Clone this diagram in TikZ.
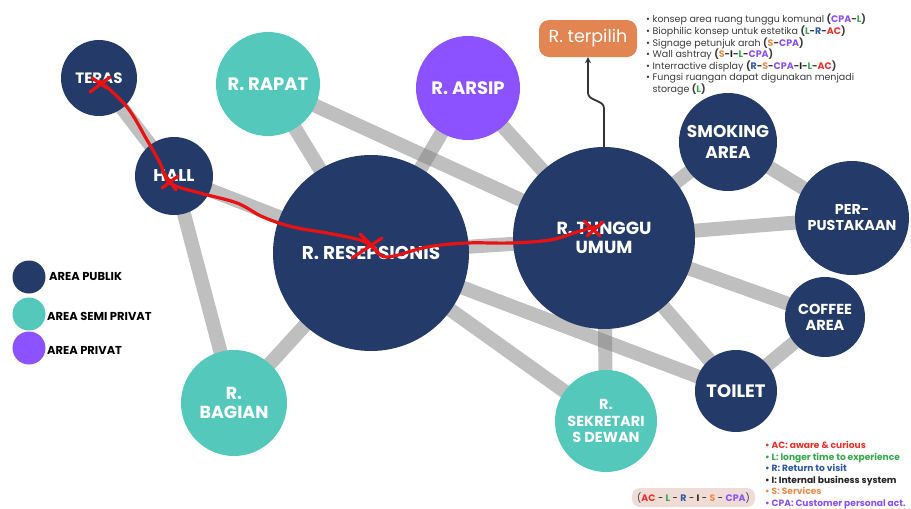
\documentclass[tikz,border=0pt]{standalone}
\usepackage{fontspec}
\setmainfont{Poppins}
\usetikzlibrary{backgrounds,arrows.meta}
\definecolor{navy}{HTML}{243A68}
\definecolor{teal}{HTML}{54C8BA}
\definecolor{purp}{HTML}{8C52FF}
\definecolor{orng}{HTML}{E38552}
\definecolor{cAC}{HTML}{E8302A}
\definecolor{cL}{HTML}{35A84A}
\definecolor{cR}{HTML}{2C57A6}
\definecolor{cI}{HTML}{222222}
\definecolor{cS}{HTML}{F08A4B}
\definecolor{cCPA}{HTML}{8A4FFF}
\definecolor{txt}{HTML}{3A3A3A}
\definecolor{pill}{HTML}{F0DCD6}
\definecolor{redpen}{HTML}{E81212}
\tikzset{
  room/.style={circle,inner sep=0pt,text=white,align=center,font=\bfseries\fontsize{18}{20}\selectfont},
  pub/.style={room,fill=navy},
  semi/.style={room,fill=teal},
  priv/.style={room,fill=purp},
  link/.style={draw=black!50,opacity=0.5,line width=14pt},
  legdot/.style={circle,inner sep=0pt,minimum size=33pt},
  legtxt/.style={anchor=west,inner sep=0pt,font=\bfseries\fontsize{11.5}{12}\selectfont},
  pen/.style={draw=redpen,line width=3.2pt,line cap=round,line join=round},
}
\newcommand{\cc}[2]{\textcolor{#1}{#2}}
\begin{document}
\begin{tikzpicture}[x=1pt,y=-1pt]
\useasboundingbox (0,0) rectangle (911,509);
% rooms
\node[pub,minimum size=76pt,font=\bfseries\fontsize{15}{17}\selectfont] (teras) at (99,78) {TERAS};
\node[pub,minimum size=78pt,font=\bfseries\fontsize{17}{19}\selectfont] (hall) at (174,176) {HALL};
\node[semi,minimum size=104pt] (rapat) at (268,84) {R. RAPAT};
\node[priv,minimum size=104pt] (arsip) at (468,88) {R. ARSIP};
\node[pub,minimum size=196pt,font=\bfseries\fontsize{18.5}{20}\selectfont] (resep) at (371,253) {R. RESEPSIONIS};
\node[pub,minimum size=182pt,font=\bfseries\fontsize{17.5}{19}\selectfont] (tunggu) at (604,238) {R. TUNGGU\\UMUM};
\node[pub,minimum size=98pt,font=\bfseries\fontsize{17}{21}\selectfont] (smoking) at (728,142) {SMOKING\\AREA};
\node[pub,minimum size=114pt,font=\bfseries\fontsize{14.3}{16}\selectfont] (perpus) at (852,218) {PER-\\PUSTAKAAN};
\node[pub,minimum size=80pt,font=\bfseries\fontsize{14.5}{16}\selectfont] (coffee) at (825,317) {COFFEE\\AREA};
\node[pub,minimum size=82pt] (toilet) at (736,391) {TOILET};
\node[semi,minimum size=102pt,font=\bfseries\fontsize{14.5}{16.5}\selectfont] (sekre) at (606,421) {R.\\SEKRETARI\\S DEWAN};
\node[semi,minimum size=106pt,font=\bfseries\fontsize{17.5}{19}\selectfont] (bagian) at (234,403) {R.\\BAGIAN};
% links
\begin{scope}[on background layer]
\foreach \a/\b in {teras/hall,hall/resep,hall/bagian,rapat/resep,rapat/tunggu,arsip/resep,arsip/tunggu,resep/tunggu,resep/bagian,resep/sekre,resep/toilet,tunggu/smoking,tunggu/perpus,tunggu/coffee,tunggu/toilet,tunggu/sekre,smoking/perpus,coffee/toilet}
  \draw[link] (\a.center) -- (\b.center);
\end{scope}
% chosen room
\node[fill=orng,rounded corners=10pt,minimum width=98pt,minimum height=37pt,text=white,font=\fontsize{17.5}{19}\selectfont] (terpilih) at (588,38.5) {R. terpilih};
\coordinate (bend1) at (604,108);
\coordinate (bend2) at (588,93);
\draw[line width=1.8pt,draw=black!80,-{Stealth[length=6pt,width=6pt]}] (tunggu.north) -- (bend1) .. controls (604,100) and (588,101) .. (bend2) -- (terpilih.south);
% list top right
\node[anchor=north west,inner sep=0pt,align=left,text=txt,font=\fontsize{9.5}{11.6}\selectfont] (list) at (646,14) {%
\textbullet\ konsep area ruang tunggu komunal \textbf{(\cc{cCPA}{CPA}-\cc{cL}{L})}\\
\textbullet\ Biophilic konsep untuk estetika \textbf{(\cc{cL}{L}-\cc{cR}{R}-\cc{cAC}{AC})}\\
\textbullet\ Signage petunjuk arah \textbf{(\cc{cS}{S}-\cc{cCPA}{CPA})}\\
\textbullet\ Wall ashtray \textbf{(\cc{cS}{S}-\cc{cI}{I}-\cc{cL}{L}-\cc{cCPA}{CPA})}\\
\textbullet\ Interractive display \textbf{(\cc{cR}{R}-\cc{cS}{S}-\cc{cCPA}{CPA}-\cc{cI}{I}-\cc{cL}{L}-\cc{cAC}{AC})}\\
\textbullet\ Fungsi ruangan dapat digunakan menjadi\\
\phantom{\textbullet\ }storage \textbf{(\cc{cL}{L})}};
% legend left
\node[legdot,fill=navy] (lp) at (29,277) {};
\node[legdot,fill=teal] (ls) at (29,314) {};
\node[legdot,fill=purp] (lv) at (29,348) {};
\node[legtxt] (lpt) at (49,276) {AREA PUBLIK};
\node[legtxt] (lst) at (47,316) {AREA SEMI PRIVAT};
\node[legtxt] (lvt) at (47,350) {AREA PRIVAT};
% legend bottom right
\node[anchor=north west,inner sep=0pt,align=left,font=\bfseries\fontsize{9.1}{11.6}\selectfont] (codes) at (765,441) {%
\textcolor{cAC}{\textbullet\ AC: aware \& curious}\\
\textcolor{cL}{\textbullet\ L: longer time to experience}\\
\textcolor{cR}{\textbullet\ R: Return to visit}\\
\textcolor{cI}{\textbullet\ I: Internal business system}\\
\textcolor{cS}{\textbullet\ S: Services}\\
\textcolor{cCPA}{\textbullet\ CPA: Customer personal act.}};
\node[fill=pill,rounded corners=8pt,minimum width=123pt,minimum height=19pt,inner sep=0pt,font=\fontsize{9.4}{10}\selectfont] (order) at (693.5,497.5) {\textcolor{txt}{(}\textbf{\cc{cAC}{AC}} - \textbf{\cc{cL}{L}} - \textbf{\cc{cR}{R}} - \textbf{\cc{cI}{I}} - \textbf{\cc{cS}{S}} - \textbf{\cc{cCPA}{CPA}}\textcolor{txt}{)}};
% red path
\draw[pen] plot[smooth,tension=0.6] coordinates {(100,81) (127,107) (147,140) (160,163) (170,183) (200,193) (237,203) (263,217) (293,227) (327,233) (360,240) (372,247) (387,257) (427,247) (467,243) (510,243) (550,240) (577,232) (598,226)};
\draw[pen] (90,92) -- (110,77);
\draw[pen] (92,78) -- (107,88);
\draw[pen] (163,172) -- (176,190);
\draw[pen] (162,188) -- (178,176);
\draw[pen] (360,234) -- (378,252);
\draw[pen] (352,258) -- (382,238);
\draw[pen] (584,221) -- (600,236);
\draw[pen] (587,236) -- (603,222);
\end{tikzpicture}
\end{document}
